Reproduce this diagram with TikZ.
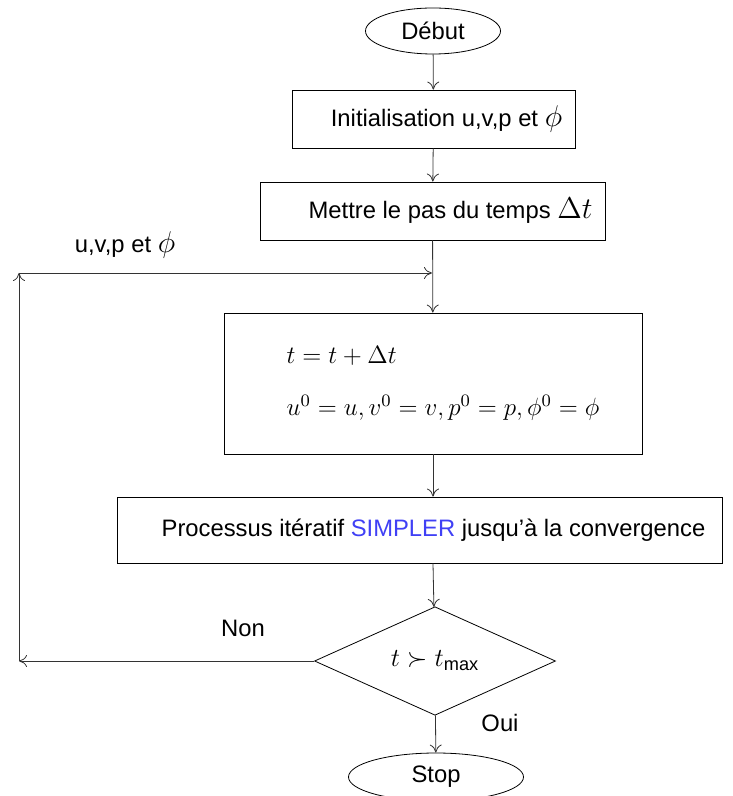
\documentclass[tikz,border=0pt]{standalone}
\usepackage{fix-cm}
\usepackage{fontspec}
\setmainfont{Liberation Sans}
\usetikzlibrary{shapes.geometric,arrows.meta}
\definecolor{simpler}{RGB}{64,64,245}
\tikzset{
    box/.style={draw, rectangle, inner sep=0pt},
    term/.style={draw, ellipse, inner sep=0pt},
    test/.style={draw, diamond, inner sep=0pt},
    flow/.style={-{To[length=4pt,width=6pt]}, draw=black!80}
}
\newcommand{\bigsym}[1]{{\fontsize{15}{15}\selectfont$#1$}}

\begin{document}
\begin{tikzpicture}[x=0.5pt, y=-0.5pt, font=\fontsize{11.9}{14}\selectfont]
    \useasboundingbox (0,0) rectangle (732,796);
    \node[term, minimum width=67.5pt, minimum height=23pt] (debut) at (433,31) {Début};
    \node[box, minimum width=141.5pt, minimum height=29pt] (init) at (433.5,119) {\hspace*{13pt}Initialisation u,v,p et \bigsym{\phi}};
    \node[box, minimum width=172.5pt, minimum height=29pt] (temps) at (432.5,211) {\hspace*{18pt}Mettre le pas du temps \bigsym{\Delta t}};
    \node[box, minimum width=209pt, minimum height=70.5pt, align=left, font=\fontsize{12.5}{15}\selectfont] (calc) at (433,383.5) {\hspace*{10pt}$t = t + \Delta t$\\[11pt] \hspace*{10pt}$u^0 = u, v^0 = v, p^0 = p, \phi^0 = \phi$};
    \node[box, minimum width=302.5pt, minimum height=33pt] (simpler) at (419.5,530) {\hspace*{14pt}Processus itératif {\color{simpler}SIMPLER} jusqu’à la convergence};
    \node[test, minimum width=120.5pt, minimum height=42pt, font=\fontsize{13}{16}\selectfont] (tmax) at (435,661) {$t \succ t_{\max}$};
    \node[term, minimum width=87.5pt, minimum height=24pt] (stop) at (436,777) {Stop};
    \coordinate (bl) at (19,661);
    \coordinate (tl) at (19,273);
    \coordinate (join) at (432,273);
    \node (loop) at (125,245) {u,v,p et \bigsym{\phi}};
    \node (non) at (243,628) {Non};
    \node (oui) at (500,723) {Oui};
    \draw[flow] (debut) -- (init);
    \draw[flow] (init) -- (temps);
    \draw[flow] (temps) -- (calc);
    \draw[flow] (calc) -- (simpler.north -| calc.south);
    \draw[flow] (simpler.south -| calc.south) -- (tmax);
    \draw[flow] (tmax) -- (stop);
    \draw[flow] (tmax) -- (bl);
    \draw[flow] (bl) -- (tl);
    \draw[flow] (tl) -- (join);
\end{tikzpicture}
\end{document}
